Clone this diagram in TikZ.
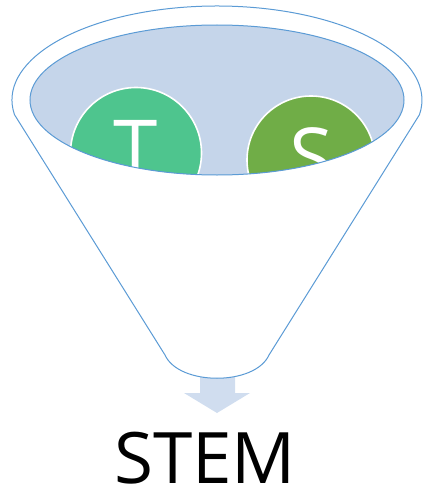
\documentclass[tikz,border=0pt]{standalone}
\usepackage{fontspec}
\setmainfont{Open Sans}
\definecolor{lineblue}{HTML}{5B9BD5}
\definecolor{innerfill}{HTML}{C5D5EA}
\definecolor{arrowc}{HTML}{D0DDEF}
\definecolor{tgreen}{HTML}{4EC58E}
\definecolor{sgreen}{HTML}{70AD47}
\tikzset{
  funnelline/.style={draw=lineblue, line width=1pt},
  ball/.style={circle, draw=white, line width=1.6pt, inner sep=0pt},
  letter/.style={text=white, anchor=base, font=\fontsize{80}{80}\selectfont},
}
\begin{document}
\begin{tikzpicture}[x=1pt,y=-1pt]
\useasboundingbox (0,0) rectangle (424,495);
% arrow
\fill[arrowc] (200,375) -- (235,375) -- (235,393) -- (250,393) -- (217,413) -- (184,393) -- (200,393) -- cycle;
% funnel body
\draw[funnelline, fill=white] (14.5,114.7) arc[start angle=171,end angle=369,x radius=205,y radius=94]
  -- (269,355) .. controls (255,386) and (179,386) .. (165,355) -- cycle;
% inner surface
\fill[innerfill] (217,100) ellipse[x radius=187, y radius=75];
\begin{scope}
  \clip (217,100) ellipse[x radius=187, y radius=75];
  \node[ball, fill=tgreen, minimum size=131pt] (tc) at (136,153) {};
  \node[ball, fill=sgreen, minimum size=128pt] (sc) at (311,160) {};
  \node[letter] (tl) at (136,177) {T};
  \node[letter] (sl) at (311,185) {S};
\end{scope}
\draw[funnelline] (217,100) ellipse[x radius=187, y radius=75];
% label
\node[anchor=base, inner sep=0pt, text depth=0pt, font=\fontsize{71}{71}\selectfont] (stem) at (205,483) {STEM};
\end{tikzpicture}
\end{document}
